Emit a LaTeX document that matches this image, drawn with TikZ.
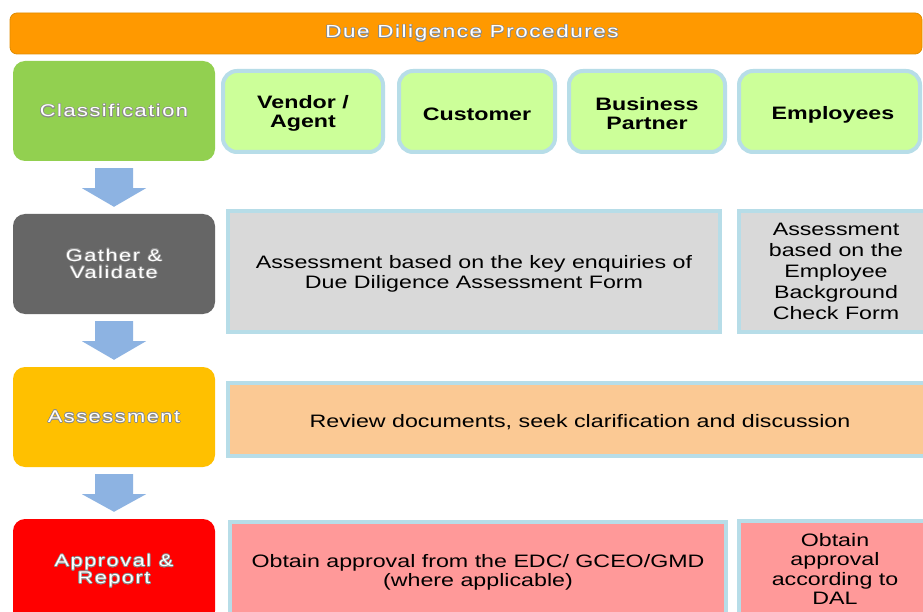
\documentclass[tikz,border=0pt]{standalone}
\usepackage{fontspec}
\setmainfont{Liberation Sans}
\newfontfamily\widefont[FakeStretch=1.29]{Liberation Sans}
\newfontfamily\trackedfont[FakeStretch=1.28,LetterSpace=9]{Liberation Sans}
\usepackage{contour}
\contourlength{0.6pt}
\usetikzlibrary{calc}

\definecolor{headorange}{HTML}{FF9900}
\definecolor{headedge}{HTML}{E08C00}
\definecolor{stepgreen}{HTML}{92D050}
\definecolor{stepgray}{HTML}{666666}
\definecolor{stepamber}{HTML}{FFC000}
\definecolor{stepred}{HTML}{FF0000}
\definecolor{catfill}{HTML}{CCFF99}
\definecolor{paleedge}{HTML}{B7DDE8}
\definecolor{formgray}{HTML}{D9D9D9}
\definecolor{reviewpeach}{HTML}{FBC994}
\definecolor{approvepink}{HTML}{FF9999}
\definecolor{flowblue}{HTML}{8DB3E2}
\definecolor{glowgray}{HTML}{8C8C8C}

\newcommand\glow[1]{\contour{glowgray}{#1}}
% taller first line, so the text block sits a little lower in its box
\newcommand\topstrut{\rule{0pt}{17.5pt}}

% block arrow hanging below one step box and pointing at the next
\newcommand\flowarrow[2]{%
  \fill[flowblue] ($(#1.south)+(-19,7)$) -- ($(#1.south)+(19,7)$)
    -- ($(#1.south)+(19,27)$) -- ($(#1.south)+(32,27)$)
    -- ($(#2.north)+(0,-7)$)
    -- ($(#1.south)+(-32,27)$) -- ($(#1.south)+(-19,27)$) -- cycle;}

\begin{document}
\begin{tikzpicture}[x=1pt,y=-1pt,
  headbar/.style={rounded corners=7, fill=headorange, draw=headedge, line width=0.8,
    minimum width=912, minimum height=41, inner sep=0, text=white,
    font=\trackedfont\fontsize{17.5}{18}\selectfont},
  stepbox/.style={rounded corners=12, minimum width=202, minimum height=100,
    inner sep=0, align=center, text=white,
    font=\trackedfont\fontsize{17}{18}\selectfont},
  catbox/.style={rounded corners=14, fill=catfill, draw=paleedge, line width=4,
    minimum height=81, inner sep=0, align=center,
    font=\widefont\bfseries\fontsize{18}{19}\selectfont},
  infobox/.style={draw=paleedge, line width=4, inner sep=0, align=center,
    font=\widefont\fontsize{18}{19.5}\selectfont},
]
\useasboundingbox (0,0) rectangle (923,612);
\clip (0,0) rectangle (923,612);
\fill[white] (0,0) rectangle (923,612);

% title bar
\node[headbar] (head) at (466,33.5)
  {\hspace*{12pt}\raisebox{2pt}{\glow{Due Diligence Procedures}}};

% process steps down the left
\node[stepbox, fill=stepgreen] (cls) at (114,111) {\glow{Classification}};
\node[stepbox, fill=stepgray]  (gv)  at (114,264) {\glow{Gather \&}\\[-1pt]\glow{Validate}};
\node[stepbox, fill=stepamber] (as)  at (114,417) {\glow{Assessment}};
\node[stepbox, fill=stepred, minimum height=104] (ar) at (114,571)
  {\glow{Approval \&}\\[-1pt]\glow{Report}};

\flowarrow{cls}{gv}
\flowarrow{gv}{as}
\flowarrow{as}{ar}

% classification categories
\node[catbox, minimum width=160] (vendor)   at (303,111.5) {\topstrut Vendor /\\Agent};
\node[catbox, minimum width=156] (customer) at (477,111.5) {\topstrut Customer};
\node[catbox, minimum width=156] (partner)  at (647,111.5) {\topstrut Business\\Partner};
\node[catbox, minimum width=181] (employee) at (829.5,111.5) {\rule{0pt}{19pt}\hspace*{7pt}Employees};

% gathering forms
\node[infobox, fill=formgray, minimum width=492, minimum height=121] (ddform) at (474,271.5)
  {\topstrut Assessment based on the key enquiries of\\Due Diligence Assessment Form};
\node[infobox, fill=formgray, minimum width=194, minimum height=121,
  font=\widefont\fontsize{18}{21}\selectfont] (ebform) at (836,271.5)
  {Assessment\\based on the\\Employee\\Background\\Check Form};

% review
\node[infobox, fill=reviewpeach, minimum width=704, minimum height=73] (review) at (580,419.5)
  {\topstrut Review documents, seek clarification and discussion};

% approval
\node[infobox, fill=approvepink, minimum width=496, minimum height=96] (edc) at (478,570)
  {\topstrut Obtain approval from the EDC/ GCEO/GMD\\(where applicable)};
\node[infobox, fill=approvepink, minimum width=192, minimum height=96] (dal) at (835,569)
  {Obtain\\approval\\according to\\DAL};
\end{tikzpicture}
\end{document}
